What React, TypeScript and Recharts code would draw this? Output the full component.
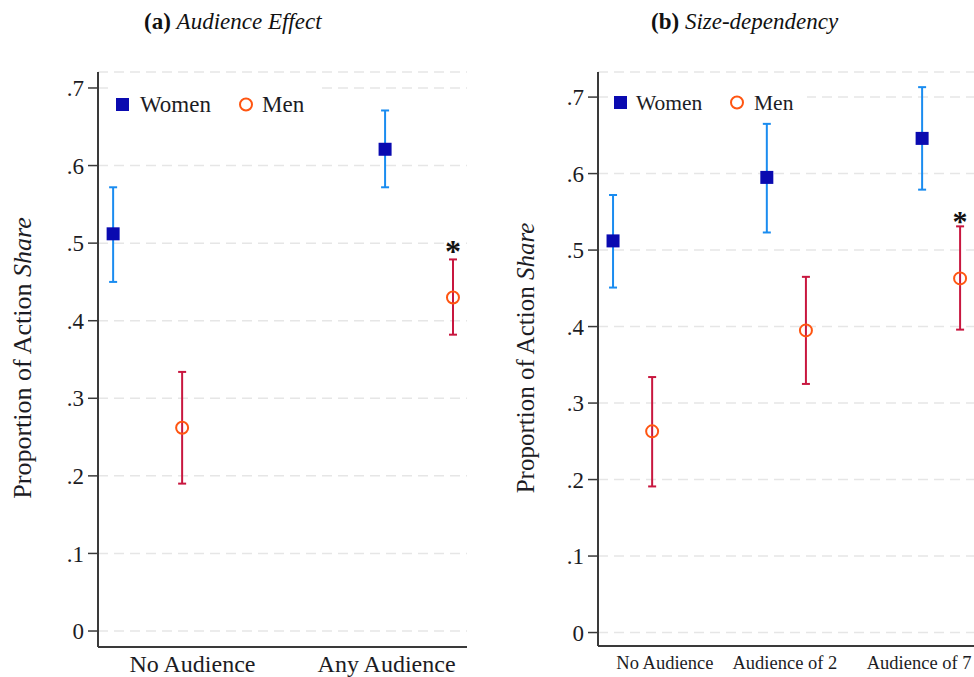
import React from "react";
import { ScatterChart, Scatter, XAxis, YAxis, CartesianGrid, ErrorBar, Legend } from "recharts";

const FONT = "'Liberation Serif', 'Times New Roman', serif";
const WOMEN = "#0a0ab0";
const WOMEN_BAR = "#1a8cf0";
const MEN = "#ff5511";
const MEN_BAR = "#c8173f";
const INK = "#1c1c24";

// (a) Audience Effect
const catsA = ["No Audience", "Any Audience"];
const tickPosA = [25.6, 78.2];
const womenXA = [4.1, 77.8];
const womenA = [0.512, 0.621];
const womenLoA = [0.45, 0.572];
const womenHiA = [0.572, 0.671];
const menXA = [22.8, 96.2];
const menA = [0.262, 0.43];
const menLoA = [0.19, 0.382];
const menHiA = [0.334, 0.479];
const starA = [false, true];

// (b) Size-dependency
const catsB = ["No Audience", "Audience of 2", "Audience of 7"];
const tickPosB = [17.8, 49.7, 85.4];
const womenXB = [4.0, 44.9, 86.2];
const womenB = [0.512, 0.595, 0.646];
const womenLoB = [0.451, 0.523, 0.579];
const womenHiB = [0.572, 0.665, 0.713];
const menXB = [14.4, 55.3, 96.3];
const menB = [0.263, 0.395, 0.463];
const menLoB = [0.191, 0.325, 0.396];
const menHiB = [0.334, 0.465, 0.531];
const starB = [false, false, true];

const yTicks = [0, 0.1, 0.2, 0.3, 0.4, 0.5, 0.6, 0.7];

const rows = (xs: number[], ys: number[], lo: number[], hi: number[]) =>
  xs.map((x, i) => ({ x, y: ys[i], err: [ys[i] - lo[i], hi[i] - ys[i]] }));

const stars = (xs: number[], hi: number[], flags: boolean[]) =>
  xs.map((x, i) => ({ x, y: hi[i] })).filter((_, i) => flags[i]);

const fmtY = (v: number) => (v === 0 ? "0" : String(v).replace(/^0/, ""));

interface PanelProps {
  left: number;
  title: [string, string];
  titleX: number;
  cats: string[];
  tickPos: number[];
  women: ReturnType<typeof rows>;
  men: ReturnType<typeof rows>;
  star: { x: number; y: number }[];
  yDomain: [number, number];
  yAxisWidth: number;
  marginRight: number;
  xAxisHeight: number;
  xFont: number;
  xMargin: number;
  yFont: number;
  titleFont: number;
  titleCx: number;
  legend: { left: number; top: number; width: number; sq: number; wText: number; circ: number; mText: number; font: number };
  starFont: number;
  starDy: number;
}

function Panel(p: PanelProps) {
  const lg = p.legend;
  return (
    <div style={{ position: "absolute", left: p.left, top: 0, width: 487, height: 677 }}>
      <div
        style={{
          position: "absolute", left: p.titleX - p.left, top: 10, lineHeight: "23px",
          fontFamily: FONT, fontSize: 23, color: "#111", whiteSpace: "nowrap",
        }}
      >
        <b>{p.title[0]}</b> <i>{p.title[1]}</i>
      </div>
      <ScatterChart width={487} height={677} margin={{ top: 72, right: p.marginRight, bottom: 0, left: 0 }}>
        <CartesianGrid vertical={false} stroke="#e6e6e6" strokeDasharray="10 6" strokeWidth={1.5} />
        <XAxis
          type="number" dataKey="x" domain={[0, 100]} ticks={p.tickPos} interval={0}
          tickFormatter={(_v: number, i: number) => p.cats[i]}
          tickLine={false} tickSize={0} tickMargin={p.xMargin} height={p.xAxisHeight}
          axisLine={{ stroke: "#3a3a3a", strokeWidth: 2 }}
          tick={{ fontFamily: FONT, fontSize: p.xFont, fill: INK }}
        />
        <YAxis
          type="number" dataKey="y" domain={p.yDomain} ticks={yTicks} interval={0}
          allowDataOverflow width={p.yAxisWidth} tickFormatter={fmtY}
          tickSize={10} tickMargin={4}
          tickLine={{ stroke: "#3a3a3a", strokeWidth: 1.5 }}
          axisLine={{ stroke: "#3a3a3a", strokeWidth: 2 }}
          tick={{ fontFamily: FONT, fontSize: p.yFont, fill: INK }}
          label={() => (
            <text
              transform={`translate(${p.titleCx}, 358) rotate(-90)`}
              textAnchor="middle" dominantBaseline="central"
              fontFamily={FONT} fontSize={p.titleFont} fill={INK}
            >
              Proportion of Action <tspan fontStyle="italic">Share</tspan>
            </text>
          )}
        />
        <Legend
          layout="vertical" align="center" verticalAlign="middle"
          wrapperStyle={{ left: lg.left, top: lg.top, width: lg.width, height: 34, background: "#fff" }}
          content={() => (
            <svg width={lg.width} height={34} style={{ display: "block" }}>
              <rect x={lg.sq} y={11} width={13} height={13} fill={WOMEN} />
              <text x={lg.wText} y={25} fontFamily={FONT} fontSize={lg.font} fill={INK}>Women</text>
              <circle cx={lg.circ} cy={17.5} r={6} fill="none" stroke={MEN} strokeWidth={2} />
              <text x={lg.mText} y={25} fontFamily={FONT} fontSize={lg.font} fill={INK}>Men</text>
            </svg>
          )}
        />
        <Scatter
          data={p.women} isAnimationActive={false}
          shape={(s: any) => <rect x={s.cx - 6.5} y={s.cy - 6.5} width={13} height={13} fill={WOMEN} />}
        >
          <ErrorBar dataKey="err" direction="y" width={4} stroke={WOMEN_BAR} strokeWidth={2} />
        </Scatter>
        <Scatter
          data={p.men} isAnimationActive={false}
          shape={(s: any) => <circle cx={s.cx} cy={s.cy} r={6} fill="none" stroke={MEN} strokeWidth={2} />}
        >
          <ErrorBar dataKey="err" direction="y" width={4} stroke={MEN_BAR} strokeWidth={2} />
        </Scatter>
        <Scatter
          data={p.star} isAnimationActive={false}
          shape={(s: any) => (
            <text x={s.cx} y={s.cy + p.starDy} textAnchor="middle" fontFamily={FONT} fontWeight="bold" fontSize={p.starFont} fill="#111">
              *
            </text>
          )}
        />
      </ScatterChart>
    </div>
  );
}

export default function App() {
  return (
    <div style={{ position: "absolute", left: 0, top: 0, width: 974, height: 677, background: "#fff", overflow: "hidden" }}>
      <Panel
        left={0}
        title={["(a)", "Audience Effect"]}
        titleX={144}
        cats={catsA}
        tickPos={tickPosA}
        women={rows(womenXA, womenA, womenLoA, womenHiA)}
        men={rows(menXA, menA, menLoA, menHiA)}
        star={stars(menXA, menHiA, starA)}
        yDomain={[-0.0206, 0.7206]}
        yAxisWidth={98}
        marginRight={20}
        xAxisHeight={30}
        xFont={24}
        xMargin={8}
        yFont={23}
        titleFont={26}
        titleCx={22}
        legend={{ left: 108, top: 87, width: 210, sq: 8, wText: 32, circ: 138, mText: 154, font: 23 }}
        starFont={32}
        starDy={3}
      />
      <Panel
        left={487}
        title={["(b)", "Size-dependency"]}
        titleX={651}
        cats={catsB}
        tickPos={tickPosB}
        women={rows(womenXB, womenB, womenLoB, womenHiB)}
        men={rows(menXB, menB, menLoB, menHiB)}
        star={stars(menXB, menHiB, starB)}
        yDomain={[-0.0176, 0.7328]}
        yAxisWidth={111}
        marginRight={0}
        xAxisHeight={31}
        xFont={18.5}
        xMargin={10}
        yFont={23}
        titleFont={25}
        titleCx={38}
        legend={{ left: 123, top: 85, width: 197, sq: 4, wText: 26, circ: 127, mText: 144, font: 21.5 }}
        starFont={30}
        starDy={5}
      />
    </div>
  );
}
